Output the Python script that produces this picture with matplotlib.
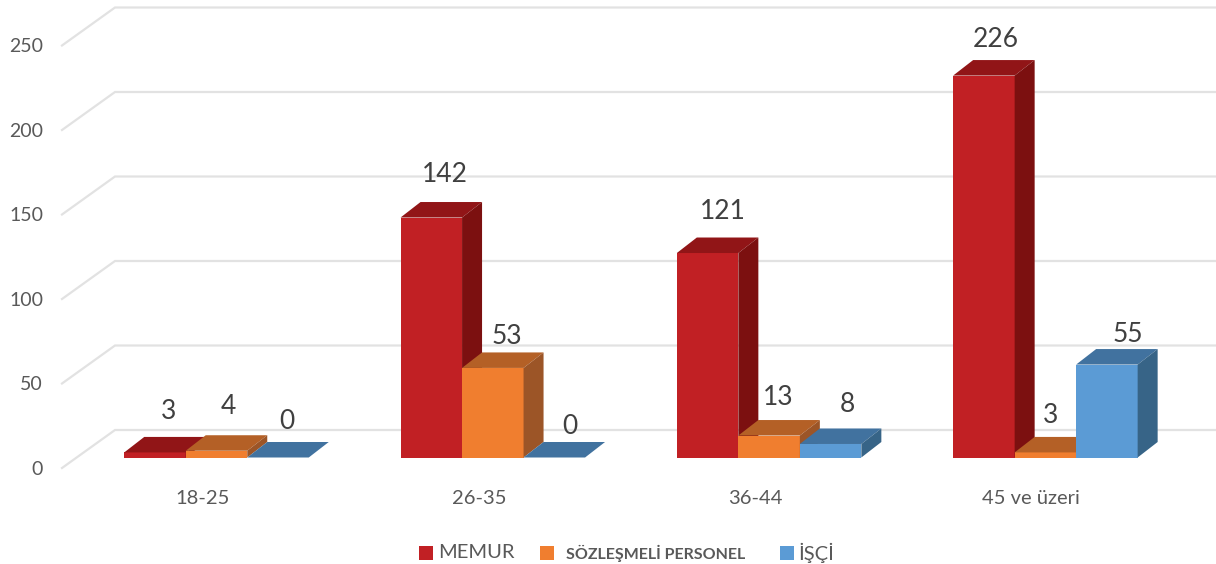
#!/usr/bin/python3
# -*- coding: utf-8 -*-
import matplotlib
matplotlib.use("Agg")
import matplotlib.pyplot as plt
from matplotlib.patches import Polygon, Rectangle

plt.rcParams['font.family'] = ['Lato', 'DejaVu Sans']

## data
groups = ["18-25", "26-35", "36-44", "45 ve üzeri"]
memur = [3, 142, 121, 226]
sozlesmeli = [4, 53, 13, 3]
isci = [0, 0, 8, 55]
y_ticks = [0, 50, 100, 150, 200, 250]
series_names = ["MEMUR", "SÖZLEŞMELİ PERSONEL", "İŞÇİ"]

## (front, top, side) colours per series
colours = [("#c12024", "#911517", "#7c1010"),
           ("#f07e2f", "#b46026", "#9c5527"),
           ("#5b9bd5", "#41729f", "#376487")]

## label offsets from the bar's front top left corner, pixels
label_dx = [[44, 44, 46, 43], [43, 45, 40, 36], [40, 46, 48, 52]]
label_dy = [[41, 43, 42, 36], [44, 31, 38, 37], [36, 31, 39, 30]]

W, H = 1216, 564
PX_X = 276.3    # pixels per group
PX_Y = 1.69     # pixels per unit
X0 = 216.5      # pixel of first group centre
Y0 = 457.5      # pixel of value 0 at the bars' front
BAR = 61.5 / PX_X
DX = 20 / PX_X  # depth of a bar
DY = 15.5 / PX_Y

fig = plt.figure(figsize=(W / 100, H / 100), dpi=100)
ax = fig.add_axes([0, 0, 1, 1])
ax.set_xlim(-X0 / PX_X, (W - X0) / PX_X)
ax.set_ylim(-(H - Y0) / PX_Y, Y0 / PX_Y)
ax.axis("off")

# walls: back grid line plus the diagonal coming to the front
back_x = (115 - X0) / PX_X
front_x = (62 - X0) / PX_X
back_off = 27.5 / PX_Y
front_off = -10.5 / PX_Y
for v in y_ticks:
    ax.plot([front_x, back_x, ax.get_xlim()[1]],
            [v + front_off, v + back_off, v + back_off],
            color="#e2e2e2", lw=1.6, zorder=1, solid_joinstyle="miter")
    ax.text((43 - X0) / PX_X, v + front_off - 0.8, str(v), ha="right", va="center",
            fontsize=14, color="#595959")

# bars, left to right so the next one covers the side of the previous one
all_series = [memur, sozlesmeli, isci]
z = 2
for g in range(len(groups)):
    for s, values in enumerate(all_series):
        v = values[g]
        left = g - 1.5 * BAR + s * BAR
        front, top, side = colours[s]
        ax.bar(left, v, BAR, align="edge", color=front, lw=0, zorder=z)
        ax.add_patch(Polygon([(left, v), (left + DX, v + DY), (left + BAR + DX, v + DY), (left + BAR, v)],
                             closed=True, fc=top, ec="none", zorder=z))
        ax.add_patch(Polygon([(left + BAR, 0), (left + BAR + DX, DY), (left + BAR + DX, v + DY), (left + BAR, v)],
                             closed=True, fc=side, ec="none", zorder=z))
        z += 1
        ax.text(left + label_dx[s][g] / PX_X, v + label_dy[s][g] / PX_Y, str(v),
                ha="center", va="center", fontsize=19, color="#404040", zorder=50)

# category labels sit a bit left of the group centres in the original
for g, name in enumerate(groups):
    ax.text(g - 14 / PX_X, -(498 - Y0) / PX_Y, name, ha="center", va="center", fontsize=14.5, color="#595959")

# legend, spacing is uneven in the original so it is placed by hand
def px(x, y):
    return (x - X0) / PX_X, (Y0 - y) / PX_Y

legend_box = [419, 540, 780]
legend_text = [438, 566, 798]
legend_size = [14.5, 11.5, 14.5]
legend_weight = ["normal", "bold", "normal"]
for i, name in enumerate(series_names):
    ax.add_patch(Rectangle(px(legend_box[i], 560), 14 / PX_X, 14 / PX_Y, fc=colours[i][0], ec="none"))
    tx, ty = px(legend_text[i], 553)
    ax.text(tx, ty, name, ha="left", va="center", fontsize=legend_size[i],
            fontweight=legend_weight[i], color="#595959")

fig.savefig("out.png", dpi=100)
